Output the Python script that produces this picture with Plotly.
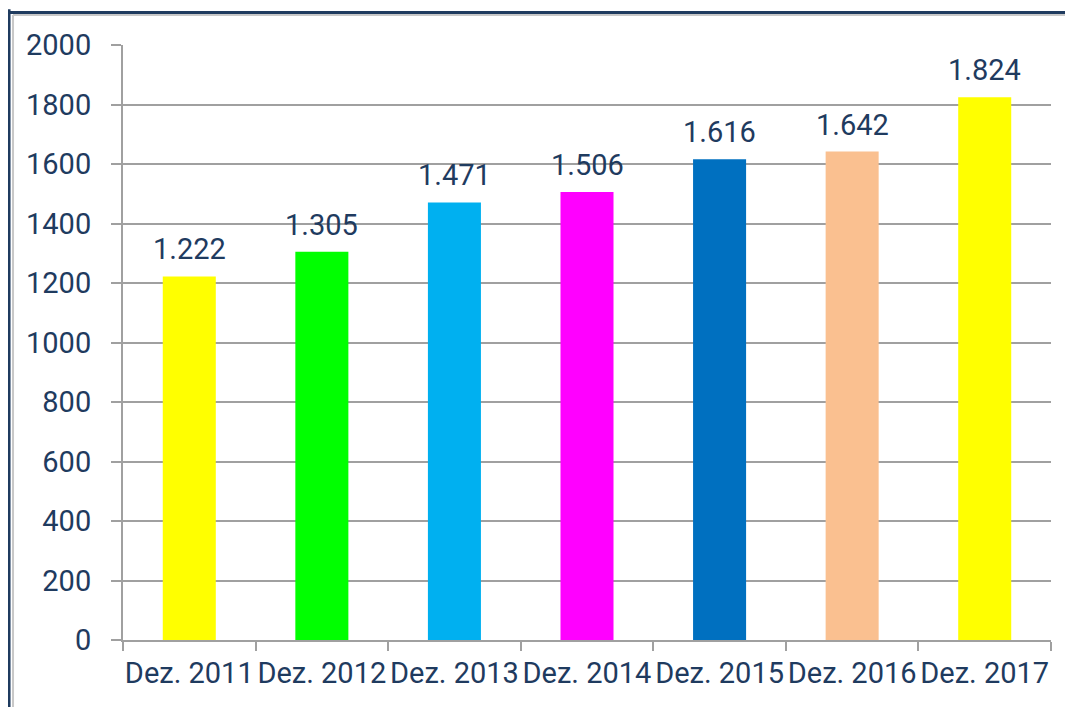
import plotly.graph_objects as go

categories = ["Dez. 2011", "Dez. 2012", "Dez. 2013", "Dez. 2014", "Dez. 2015", "Dez. 2016", "Dez. 2017"]
values = [1222, 1305, 1471, 1506, 1616, 1642, 1824]
labels = ["1.222", "1.305", "1.471", "1.506", "1.616", "1.642", "1.824"]
colors = ["#FFFF00", "#00FF00", "#00B0F0", "#FF00FF", "#0070C0", "#FAC090", "#FFFF00"]
yticks = [0, 200, 400, 600, 800, 1000, 1200, 1400, 1600, 1800, 2000]

TXT = "#1F3B5F"
FONT = "Roboto"

fig = go.Figure(go.Bar(x=categories, y=values, marker=dict(color=colors, line=dict(width=0)),
                       hoverinfo="skip"))

for c, v, l in zip(categories, values, labels):
    fig.add_annotation(x=c, y=v, text=l, showarrow=False, yanchor="bottom", yshift=8,
                       font=dict(family=FONT, size=29, color=TXT))

fig.update_layout(
    width=1065, height=699,
    margin=dict(l=115, r=22, t=37, b=67, autoexpand=False),
    paper_bgcolor="white", plot_bgcolor="white",
    bargap=0.6, showlegend=False,
    font=dict(family=FONT, size=29, color=TXT),
    shapes=[
        dict(type="line", xref="paper", yref="paper", x0=-0.1228, x1=-0.1228, y0=-0.2, y1=1.06,
             line=dict(color="#1F3B5F", width=3)),
        dict(type="line", xref="paper", yref="paper", x0=-0.1185, x1=-0.1185, y0=-0.2, y1=1.0504,
             line=dict(color="#C8C8C8", width=2)),
        dict(type="line", xref="paper", yref="paper", x0=-0.125, x1=1.03, y0=1.0546, y1=1.0546,
             line=dict(color="#1F3B5F", width=3)),
        dict(type="line", xref="paper", yref="paper", x0=-0.1185, x1=1.03, y0=1.0504, y1=1.0504,
             line=dict(color="#C8C8C8", width=2)),
    ],
)
fig.update_xaxes(showline=True, linecolor="#A0A0A0", linewidth=2, ticks="outside",
                 tickson="boundaries", ticklen=9, tickcolor="#A0A0A0", tickwidth=2,
                 showgrid=False, tickfont=dict(size=29, color=TXT, family=FONT),
                 tickangle=0, automargin=False, ticklabelstandoff=6)
fig.update_yaxes(range=[0, 2000], tickvals=yticks, showline=True, linecolor="#A0A0A0", linewidth=2,
                 ticks="outside", ticklen=10, tickcolor="#A0A0A0", tickwidth=2,
                 showgrid=True, gridcolor="#A0A0A0", gridwidth=2, zeroline=False, automargin=False,
                 tickfont=dict(size=29, color=TXT, family=FONT), ticklabelstandoff=14)

fig.write_html("out.html")
